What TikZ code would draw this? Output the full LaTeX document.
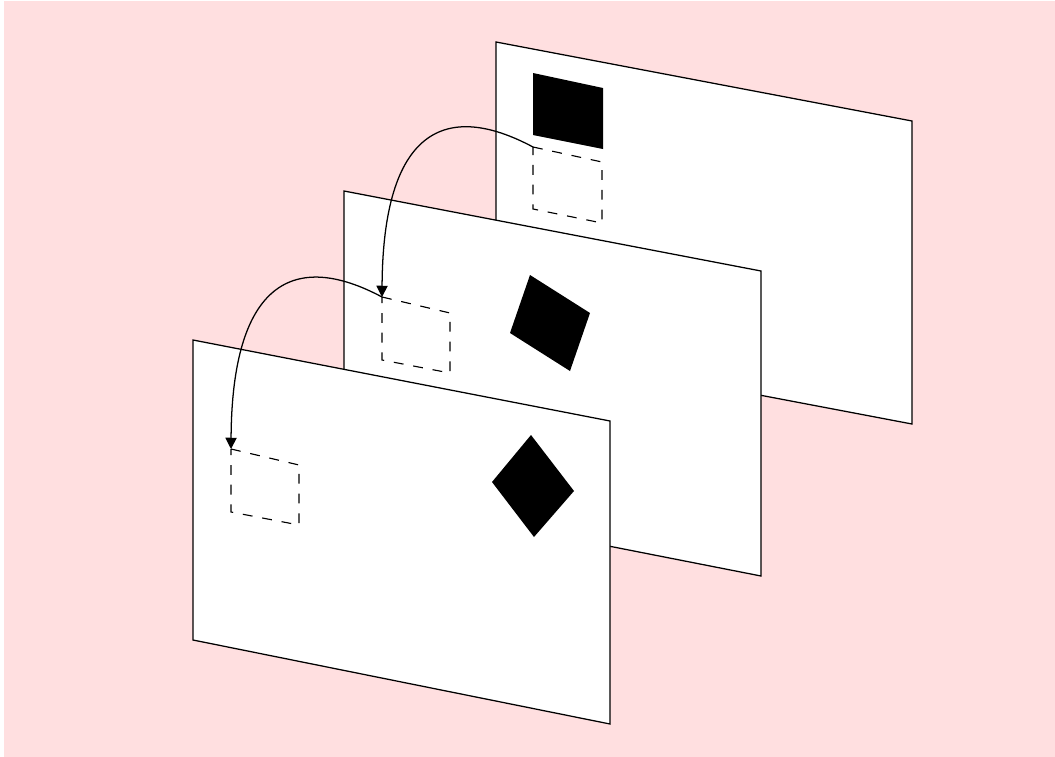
\documentclass[tikz,border=0pt]{standalone}
\usepackage{tikz}
\usetikzlibrary{arrows.meta,calc}
\definecolor{Blush}{HTML}{FFDFE0}

\tikzset{
  panel/.style={draw=black,fill=white,line width=0.9pt,line join=miter},
  blob/.style={fill=black},
  ghost/.style={draw=black,dash pattern=on 7pt off 7pt,line width=0.8pt},
  hop/.style={-{Triangle[length=8pt,width=8pt]},line width=0.9pt}
}

\begin{document}
\begin{tikzpicture}[x=0.025cm,y=-0.025cm]
      \useasboundingbox (0,0) rectangle (1055,757);
      \fill[Blush] (4,1) rectangle (1055,757);
      % back frame
      \draw[panel] (496,42) -- (912,121) -- (912,424) -- (496,345) -- cycle;
      \fill[blob] (533,73) -- (603,88) -- (603,149) -- (533,135) -- cycle;
      \coordinate (bd) at (533,147);
      \draw[ghost] (bd) -- (602,162) -- (602,223) -- (533,209) -- cycle;
      % middle frame
      \draw[panel] (344,191) -- (761,271) -- (761,576) -- (344,494) -- cycle;
      \fill[blob] (530,275) -- (590,313) -- (570,371) -- (510,333) -- cycle;
      \coordinate (md) at (382,297);
      \draw[ghost] (md) -- (450,313) -- (450,373) -- (382,360) -- cycle;
      % front frame
      \draw[panel] (193,340) -- (610,421) -- (610,724) -- (193,640) -- cycle;
      \fill[blob] (531,435) -- (574,491) -- (534,537) -- (492,482) -- cycle;
      \coordinate (fd) at (231,449);
      \draw[ghost] (fd) -- (299,465) -- (299,525) -- (231,512) -- cycle;
      % moves
      \draw[hop] (bd) .. controls +(-88,-47) and +(1,-167) .. (md);
      \draw[hop] (md) .. controls +(-88,-47) and +(1,-167) .. (fd);
    \end{tikzpicture}
\end{document}
